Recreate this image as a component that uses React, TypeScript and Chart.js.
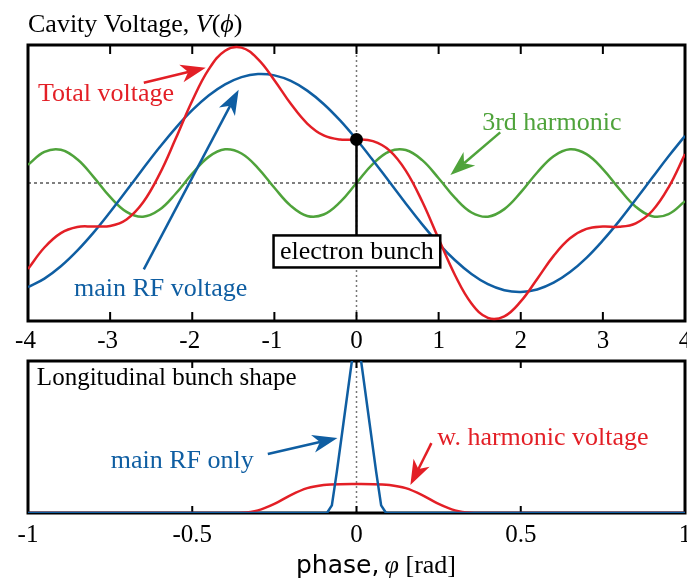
import { useEffect, useRef } from "react";
import { Chart, registerables } from "chart.js";

Chart.register(...registerables);

const SERIF = '"Liberation Serif", "Times New Roman", Times, serif';
const SANS = '"DejaVu Sans", "Noto Sans", sans-serif';
const RED = "#e31f26";
const BLUE = "#0f5ea2";
const GREEN = "#4fa33b";

// ---- Top panel: cavity voltage vs phase (rad) ----
const phase = [-4, -3.8, -3.6, -3.4, -3.2, -3, -2.8, -2.6, -2.4, -2.2, -2, -1.8, -1.6, -1.4, -1.2, -1, -0.8, -0.6, -0.4, -0.2, 0, 0.2, 0.4, 0.6, 0.8, 1, 1.2, 1.4, 1.6, 1.8, 2, 2.2, 2.4, 2.6, 2.8, 3, 3.2, 3.4, 3.6, 3.8, 4];
const mainRfVoltage = [-0.7544, -0.6927, -0.6034, -0.4901, -0.3577, -0.2102, -0.0547, 0.103, 0.2566, 0.3999, 0.5273, 0.6337, 0.7148, 0.7673, 0.7894, 0.7799, 0.7394, 0.6694, 0.5726, 0.4531, 0.3154, 0.1653, 0.0085, -0.1486, -0.2998, -0.4389, -0.5599, -0.6594, -0.7334, -0.777, -0.7898, -0.7715, -0.7226, -0.6454, -0.5423, -0.4162, -0.2744, -0.1204, 0.0373, 0.1938, 0.3413];
const thirdHarmonic = [0.1315, 0.2252, 0.2403, 0.1715, 0.0428, -0.101, -0.2094, -0.2446, -0.1945, -0.0763, 0.0685, 0.1893, 0.2441, 0.2135, 0.1084, -0.0346, -0.1655, -0.2386, -0.2283, -0.1383, 0, 0.1383, 0.2283, 0.2386, 0.1655, 0.0346, -0.1084, -0.2135, -0.2441, -0.1893, -0.0685, 0.0763, 0.1945, 0.2446, 0.2094, 0.101, -0.0428, -0.1715, -0.2403, -0.2252, -0.1315];
const totalVoltage = [-0.6229, -0.4675, -0.3631, -0.3186, -0.3149, -0.3112, -0.2641, -0.1416, 0.0621, 0.3236, 0.5958, 0.823, 0.9589, 0.9808, 0.8978, 0.7453, 0.5739, 0.4308, 0.3443, 0.3148, 0.3154, 0.3036, 0.2368, 0.09, -0.1343, -0.4043, -0.6683, -0.8729, -0.9775, -0.9663, -0.8583, -0.6952, -0.5281, -0.4008, -0.3329, -0.3152, -0.3172, -0.2919, -0.203, -0.0314, 0.2098];
const voltageTicks = [-4, -3, -2, -1, 0, 1, 2, 3, 4];

// ---- Bottom panel: longitudinal bunch shape ----
const bunchTicks = [-1, -0.5, 0, 0.5, 1];
const mainRfBunchPhase = [-1, -0.09, -0.075, -0.06, -0.04, -0.02, 0, 0.02, 0.04, 0.06, 0.075, 0.09, 1];
const mainRfBunch = [0, 0, 0.05, 0.269, 0.587, 0.905, 1.22, 0.905, 0.587, 0.269, 0.05, 0, 0];
const harmonicBunchPhase = [-1, -0.45, -0.4, -0.35, -0.3, -0.25, -0.2, -0.15, -0.1, -0.05, 0, 0.05, 0.1, 0.15, 0.2, 0.25, 0.3, 0.35, 0.4, 0.45, 1];
const harmonicBunch = [0, 0, 0.0001, 0.0022, 0.0172, 0.0597, 0.1182, 0.1635, 0.1845, 0.1897, 0.19, 0.1897, 0.1845, 0.1635, 0.1182, 0.0597, 0.0172, 0.0022, 0.0001, 0, 0];

type Part = { text: string; font: string };

function drawRich(ctx: CanvasRenderingContext2D, parts: Part[], x: number, y: number, color: string) {
  ctx.save();
  ctx.fillStyle = color;
  ctx.textBaseline = "alphabetic";
  ctx.textAlign = "left";
  let cx = x;
  for (const p of parts) {
    ctx.font = p.font;
    ctx.fillText(p.text, cx, y);
    cx += ctx.measureText(p.text).width;
  }
  ctx.restore();
}

function drawText(ctx: CanvasRenderingContext2D, text: string, x: number, y: number, color: string, size = 26) {
  drawRich(ctx, [{ text, font: `${size}px ${SERIF}` }], x, y, color);
}

function drawArrow(ctx: CanvasRenderingContext2D, x1: number, y1: number, x2: number, y2: number, color: string) {
  const ang = Math.atan2(y2 - y1, x2 - x1);
  const len = 25, half = 9, notch = 18;
  const c = Math.cos(ang), s = Math.sin(ang);
  ctx.save();
  ctx.strokeStyle = color;
  ctx.fillStyle = color;
  ctx.lineWidth = 2.5;
  ctx.beginPath();
  ctx.moveTo(x1, y1);
  ctx.lineTo(x2 - c * notch, y2 - s * notch);
  ctx.stroke();
  ctx.beginPath();
  ctx.moveTo(x2, y2);
  ctx.lineTo(x2 - c * len + s * half, y2 - s * len - c * half);
  ctx.lineTo(x2 - c * notch, y2 - s * notch);
  ctx.lineTo(x2 - c * len - s * half, y2 - s * len + c * half);
  ctx.closePath();
  ctx.fill();
  ctx.restore();
}

function drawFrameAndTicks(chart: any, ticks: number[], len: number) {
  const { ctx, chartArea: a, scales } = chart;
  ctx.save();
  ctx.setLineDash([]);
  ctx.strokeStyle = "#000";
  ctx.lineWidth = 3;
  ctx.strokeRect(a.left, a.top, a.right - a.left, a.bottom - a.top);
  ctx.lineWidth = 2;
  for (const v of ticks) {
    const px = scales.x.getPixelForValue(v);
    if (px <= a.left + 2 || px >= a.right - 2) continue;
    ctx.beginPath();
    ctx.moveTo(px, a.top);
    ctx.lineTo(px, a.top + len);
    ctx.moveTo(px, a.bottom);
    ctx.lineTo(px, a.bottom - len);
    ctx.stroke();
  }
  ctx.restore();
}

const topPlugin = {
  id: "topDecor",
  beforeDatasetsDraw(chart: any) {
    const { ctx, chartArea: a, scales } = chart;
    const { x, y } = scales;
    ctx.save();
    ctx.strokeStyle = "#000";
    ctx.lineWidth = 1;
    ctx.setLineDash([3, 3]);
    const y0 = y.getPixelForValue(0);
    ctx.beginPath();
    ctx.moveTo(a.left, y0);
    ctx.lineTo(a.right, y0);
    ctx.stroke();
    ctx.strokeStyle = "#777";
    ctx.lineWidth = 1.5;
    ctx.setLineDash([2, 3]);
    const x0 = x.getPixelForValue(0);
    ctx.beginPath();
    ctx.moveTo(x0, a.top);
    ctx.lineTo(x0, a.bottom);
    ctx.stroke();
    ctx.restore();
    drawFrameAndTicks(chart, voltageTicks, 9);
  },
  afterDatasetsDraw(chart: any) {
    const { ctx, scales } = chart;
    const { x, y } = scales;
    const X = (v: number) => x.getPixelForValue(v);
    const Y = (v: number) => y.getPixelForValue(v);
    const i0 = phase.indexOf(0);
    const dotX = X(0), dotY = Y(totalVoltage[i0]);
    // electron bunch marker
    const boxL = X(-1.01), boxR = X(1.02), boxT = Y(-0.38), boxB = Y(-0.612);
    ctx.save();
    ctx.strokeStyle = "#000";
    ctx.lineWidth = 2.5;
    ctx.beginPath();
    ctx.moveTo(dotX, dotY);
    ctx.lineTo(dotX, boxT);
    ctx.stroke();
    ctx.fillStyle = "#000";
    ctx.beginPath();
    ctx.arc(dotX, dotY, 6.5, 0, Math.PI * 2);
    ctx.fill();
    ctx.fillStyle = "#fff";
    ctx.fillRect(boxL, boxT, boxR - boxL, boxB - boxT);
    ctx.lineWidth = 2.5;
    ctx.strokeRect(boxL, boxT, boxR - boxL, boxB - boxT);
    ctx.font = `26px ${SERIF}`;
    ctx.fillStyle = "#000";
    ctx.textAlign = "center";
    ctx.textBaseline = "alphabetic";
    ctx.fillText("electron bunch", (boxL + boxR) / 2, boxT + 23.5);
    ctx.restore();

    // labels and arrows
    drawText(ctx, "Total voltage", X(-3.878), Y(0.597), RED);
    drawArrow(ctx, X(-2.59), Y(0.727), X(-1.836), Y(0.835), RED);
    drawText(ctx, "main RF voltage", X(-3.44), Y(-0.82), BLUE);
    drawArrow(ctx, X(-2.59), Y(-0.626), X(-1.435), Y(0.676), BLUE);
    drawText(ctx, "3rd harmonic", X(1.53), Y(0.381), GREEN);
    drawArrow(ctx, X(1.75), Y(0.367), X(1.143), Y(0.058), GREEN);

    // panel title
    drawRich(
      ctx,
      [
        { text: "Cavity Voltage, ", font: `26px ${SERIF}` },
        { text: "V", font: `italic 26px ${SERIF}` },
        { text: "(", font: `26px ${SERIF}` },
        { text: "\u03D5", font: `italic 26px ${SERIF}` },
        { text: ")", font: `26px ${SERIF}` },
      ],
      28,
      32,
      "#000"
    );
  },
};

const bottomPlugin = {
  id: "bottomDecor",
  beforeDatasetsDraw(chart: any) {
    const { ctx, chartArea: a, scales } = chart;
    const x0 = scales.x.getPixelForValue(0);
    ctx.save();
    ctx.strokeStyle = "#777";
    ctx.lineWidth = 1.5;
    ctx.setLineDash([2, 3]);
    ctx.beginPath();
    ctx.moveTo(x0, a.top);
    ctx.lineTo(x0, a.bottom);
    ctx.stroke();
    ctx.restore();
    drawFrameAndTicks(chart, bunchTicks, 7);
  },
  afterDatasetsDraw(chart: any) {
    const { ctx, scales } = chart;
    const { x, y } = scales;
    const X = (v: number) => x.getPixelForValue(v);
    const Y = (v: number) => y.getPixelForValue(v);
    drawText(ctx, "Longitudinal bunch shape", X(-0.973), Y(0.842), "#000", 25);
    drawText(ctx, "main RF only", X(-0.748), Y(0.296), BLUE);
    drawArrow(ctx, X(-0.27), Y(0.388), X(-0.058), Y(0.493), BLUE);
    drawText(ctx, "w. harmonic voltage", X(0.246), Y(0.447), RED);
    drawArrow(ctx, X(0.228), Y(0.46), X(0.164), Y(0.184), RED);
  },
  afterDraw(chart: any) {
    const { ctx } = chart;
    drawRich(
      ctx,
      [
        { text: "phase,", font: `25px ${SANS}` },
        { text: "\u2009", font: `26px ${SERIF}` },
        { text: "\u03C6", font: `italic 26px ${SERIF}` },
        { text: " [rad]", font: `26px ${SERIF}` },
      ],
      296,
      217,
      "#000"
    );
  },
};

function xAxis(min: number, max: number, step: number, height: number, pad: number, fmt: (v: number) => string) {
  return {
    type: "linear" as const,
    min,
    max,
    grid: { display: false, drawTicks: false },
    border: { display: false },
    ticks: {
      stepSize: step,
      autoSkip: false,
      maxRotation: 0,
      padding: pad,
      color: "#000",
      font: { family: SERIF, size: 25 },
      callback: (v: any) => fmt(Number(v)),
    },
    afterFit: (s: any) => {
      s.height = height;
      s.paddingLeft = 0;
      s.paddingRight = 0;
    },
  };
}

export default function App() {
  const topRef = useRef<HTMLCanvasElement>(null);
  const botRef = useRef<HTMLCanvasElement>(null);

  useEffect(() => {
    const line = (data: number[], xs: number[], color: string, extra: any = {}) => ({
      data: xs.map((p, i) => ({ x: p, y: data[i] })),
      borderColor: color,
      backgroundColor: color,
      borderWidth: 2.5,
      pointRadius: 0,
      fill: false,
      ...extra,
    });

    const top = new Chart(topRef.current as HTMLCanvasElement, {
      type: "line",
      data: {
        datasets: [
          { label: "Total voltage", ...line(totalVoltage, phase, RED, { tension: 0.4 }) },
          { label: "main RF voltage", ...line(mainRfVoltage, phase, BLUE, { tension: 0.4 }) },
          { label: "3rd harmonic", ...line(thirdHarmonic, phase, GREEN, { tension: 0.4 }) },
        ],
      },
      options: {
        animation: false,
        responsive: false,
        layout: { padding: { left: 28, right: 2, top: 45, bottom: 0 } },
        plugins: { legend: { display: false }, tooltip: { enabled: false } },
        scales: {
          x: xAxis(-4, 4, 1, 35, 5, (v) => (v < 0 ? `${v}\u2009` : String(v))),
          y: { display: false, min: -1, max: 1 },
        },
      },
      plugins: [topPlugin],
    } as any);

    const bot = new Chart(botRef.current as HTMLCanvasElement, {
      type: "line",
      data: {
        datasets: [
          { label: "main RF only", ...line(mainRfBunch, mainRfBunchPhase, BLUE, { tension: 0 }) },
          { label: "w. harmonic voltage", ...line(harmonicBunch, harmonicBunchPhase, RED, { cubicInterpolationMode: "monotone" }) },
        ],
      },
      options: {
        animation: false,
        responsive: false,
        layout: { padding: { left: 28, right: 2, top: 5, bottom: 0 } },
        plugins: { legend: { display: false }, tooltip: { enabled: false } },
        scales: {
          x: xAxis(-1, 1, 0.5, 68, 7, (v) => String(v)),
          y: { display: false, min: 0, max: 1 },
        },
      },
      plugins: [bottomPlugin],
    } as any);

    return () => {
      top.destroy();
      bot.destroy();
    };
  }, []);

  return (
    <div style={{ position: "fixed", left: 0, top: 0, width: 687, height: 581, background: "#fff" }}>
      <canvas ref={topRef} width={687} height={356} style={{ position: "absolute", left: 0, top: 0, width: 687, height: 356 }} />
      <canvas ref={botRef} width={687} height={225} style={{ position: "absolute", left: 0, top: 356, width: 687, height: 225 }} />
    </div>
  );
}
